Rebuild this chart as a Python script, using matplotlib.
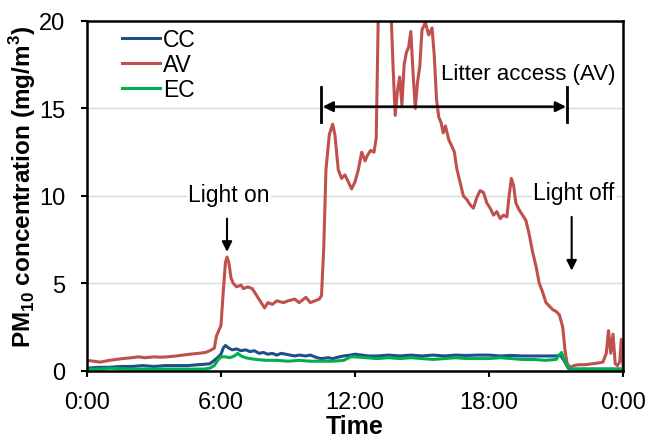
import matplotlib.pyplot as plt
from matplotlib.ticker import FuncFormatter

plt.rcParams['font.family'] = ['Liberation Sans', 'DejaVu Sans']
plt.rcParams['mathtext.fontset'] = 'custom'
plt.rcParams['mathtext.rm'] = 'Liberation Sans'
plt.rcParams['mathtext.bf'] = 'Liberation Sans:bold'

# hours since midnight (mg/m3)
t_av = [0.0, 0.3, 0.6, 1.0, 1.3, 1.6, 2.0, 2.3, 2.6, 3.0, 3.3, 3.6, 4.0, 4.3, 4.6, 5.0,
        5.3, 5.5, 5.7, 5.8, 5.9, 6.0, 6.1, 6.2, 6.27, 6.35, 6.45, 6.55, 6.7, 6.9, 7.0,
        7.2, 7.4, 7.6, 7.8, 7.95, 8.1, 8.3, 8.5, 8.8, 9.0, 9.3, 9.5, 9.8, 10.0, 10.2,
        10.4, 10.5, 10.6, 10.7, 10.85, 11.0, 11.1, 11.25, 11.4, 11.55, 11.7, 11.85, 12.0,
        12.15, 12.3, 12.45, 12.55, 12.7, 12.85, 12.95, 13.0, 13.05, 13.3, 13.5, 13.6,
        13.7, 13.8, 13.9, 14.0, 14.1, 14.2, 14.3, 14.4, 14.5, 14.6, 14.7, 14.8, 14.9,
        15.0, 15.15, 15.3, 15.45, 15.55, 15.65, 15.75, 15.85, 15.95, 16.05, 16.2, 16.35,
        16.45, 16.55, 16.7, 16.85, 17.0, 17.15, 17.3, 17.45, 17.6, 17.75, 17.9, 18.05,
        18.2, 18.35, 18.5, 18.65, 18.8, 18.9, 19.0, 19.1, 19.2, 19.35, 19.5, 19.65, 19.8,
        19.95, 20.1, 20.25, 20.4, 20.55, 20.7, 20.85, 21.0, 21.15, 21.3, 21.4, 21.5,
        21.65, 21.8, 22.0, 22.3, 22.6, 22.9, 23.1, 23.25, 23.35, 23.45, 23.55, 23.65,
        23.75, 23.85, 23.92, 24.0]
av = [0.6, 0.55, 0.5, 0.6, 0.65, 0.7, 0.75, 0.8, 0.75, 0.8, 0.78, 0.8, 0.85, 0.9, 0.95, 1.0,
      1.05, 1.15, 1.3, 2.0, 2.3, 2.6, 4.5, 6.2, 6.5, 6.2, 5.3, 5.0, 4.8, 4.9, 4.7,
      4.8, 4.7, 4.3, 3.9, 3.6, 3.9, 3.8, 4.0, 3.9, 4.0, 4.1, 3.9, 4.2, 3.9, 4.0,
      4.1, 4.3, 7.0, 11.5, 13.5, 14.1, 13.5, 11.5, 11.0, 11.2, 10.8, 10.4, 10.8,
      11.5, 12.5, 12.0, 12.3, 12.6, 12.5, 13.3, 17.0, 21.0, 23.0, 22.0, 21.0,
      17.5, 14.6, 16.0, 16.8, 15.2, 17.5, 18.2, 18.5, 19.4, 17.0, 15.0, 16.5, 17.4,
      19.5, 19.9, 19.2, 19.6, 18.0, 15.5, 14.5, 14.2, 13.6, 14.0, 13.2, 12.8,
      12.5, 11.6, 10.8, 10.0, 9.8, 9.5, 9.3, 9.9, 10.3, 10.2, 9.6, 9.3,
      8.9, 9.1, 8.7, 8.9, 8.8, 10.0, 11.0, 10.6, 9.6, 9.2, 8.9, 8.6, 7.8,
      6.8, 6.0, 5.0, 4.5, 3.9, 3.7, 3.5, 3.4, 3.2, 2.5, 1.2, 0.4,
      0.2, 0.3, 0.35, 0.35, 0.4, 0.45, 0.5, 1.0, 2.3, 1.0, 2.1, 0.4,
      0.3, 0.5, 1.8, 0.3]

t_cc = [0.0, 0.5, 1.0, 1.5, 2.0, 2.5, 3.0, 3.5, 4.0, 4.5, 5.0, 5.5, 5.8, 6.0, 6.1, 6.2,
        6.35, 6.5, 6.7, 6.9, 7.1, 7.3, 7.5, 7.7, 7.9, 8.1, 8.3, 8.5, 8.7, 8.9, 9.1, 9.3,
        9.5, 9.8, 10.0, 10.3, 10.5, 10.8, 11.0, 11.3, 11.5, 11.8, 12.0, 12.3, 12.6, 13.0,
        13.5, 14.0, 14.5, 15.0, 15.5, 16.0, 16.5, 17.0, 17.5, 18.0, 18.5, 19.0, 19.5,
        20.0, 20.5, 21.0, 21.2, 21.4, 21.55, 21.7, 22.0, 22.5, 23.0, 23.5, 24.0]
cc = [0.15, 0.2, 0.2, 0.25, 0.25, 0.3, 0.25, 0.3, 0.3, 0.3, 0.35, 0.4, 0.7, 0.95, 1.3, 1.45,
      1.3, 1.2, 1.25, 1.15, 1.2, 1.1, 1.15, 1.0, 1.05, 0.95, 1.0, 0.9, 1.0, 0.95, 0.9, 0.85,
      0.9, 0.85, 0.9, 0.75, 0.7, 0.75, 0.7, 0.8, 0.85, 0.9, 0.95, 0.9, 0.85, 0.85,
      0.9, 0.85, 0.9, 0.85, 0.9, 0.85, 0.9, 0.88, 0.9, 0.9, 0.85, 0.88, 0.85,
      0.85, 0.85, 0.85, 0.9, 0.5, 0.15, 0.1, 0.1, 0.1, 0.1, 0.1, 0.1]

t_ec = [0.0, 0.5, 1.0, 2.0, 3.0, 4.0, 5.2, 5.5, 5.7, 5.85, 6.0, 6.2, 6.4, 6.6, 6.75, 6.9,
        7.1, 7.3, 7.6, 8.0, 8.5, 9.0, 9.5, 10.0, 10.5, 11.0, 11.5, 11.8, 12.0, 12.5, 13.0,
        13.5, 14.0, 14.5, 15.0, 15.5, 16.0, 16.5, 17.0, 17.5, 18.0, 18.5, 19.0, 19.5,
        20.0, 20.5, 21.0, 21.15, 21.25, 21.35, 21.5, 21.7, 22.0, 24.0]
ec = [0.1, 0.1, 0.15, 0.1, 0.1, 0.1, 0.1, 0.15, 0.3, 0.6, 0.8, 0.8, 0.75, 0.85, 1.0, 0.85,
      0.75, 0.7, 0.65, 0.6, 0.6, 0.55, 0.6, 0.55, 0.55, 0.55, 0.6, 0.8, 0.8, 0.75, 0.7,
      0.75, 0.7, 0.75, 0.7, 0.65, 0.7, 0.75, 0.7, 0.7, 0.7, 0.75, 0.7, 0.65,
      0.65, 0.6, 0.65, 0.9, 1.05, 0.7, 0.25, 0.1, 0.1, 0.1]

xticks = [0, 6, 12, 18, 24]
yticks = [0, 5, 10, 15, 20]

fig = plt.figure(figsize=(6.49, 4.39), dpi=100)
ax = fig.add_axes([0.134, 0.153, 0.826, 0.797])

ax.plot(t_cc, cc, color='#1F4E8C', lw=2.2, label='CC')
ax.plot(t_av, av, color='#C0504D', lw=2.2, label='AV')
ax.plot(t_ec, ec, color='#00B050', lw=2.2, label='EC')

ax.set_xlim(0, 24)
ax.set_ylim(0, 20)
ax.set_xticks(xticks)
ax.set_yticks(yticks)
ax.xaxis.set_major_formatter(FuncFormatter(lambda v, p: '%d:00' % (int(v) % 24)))
ax.tick_params(labelsize=17, width=1.5, length=4.5, direction='out', colors='black')
ax.tick_params(axis='x', pad=10)
ax.tick_params(axis='y', pad=11)
ax.grid(axis='y', color='#D9D9D9', lw=1)
ax.set_axisbelow(True)
for s in ax.spines.values():
    s.set_linewidth(1.8)

ax.set_xlabel('Time', fontsize=18, fontweight='bold', labelpad=1)
ax.set_ylabel(r'PM$_{\mathbf{10}}$ concentration (mg/m$^{\mathbf{3}}$)',
              fontsize=17.5, fontweight='bold')
ax.yaxis.set_label_coords(-0.091, 0.527)

ax.legend(loc='upper left', bbox_to_anchor=(0.048, 1.007), borderaxespad=0, frameon=False,
          fontsize=16.5, handlelength=1.66, handletextpad=0.13, labelspacing=0.1)

# annotations
ax.annotate('', xy=(6.27, 6.8), xytext=(6.27, 8.7),
            arrowprops=dict(arrowstyle='-|>', color='black', lw=1.5, mutation_scale=15,
                            shrinkA=0, shrinkB=0))
ax.text(6.36, 9.71, 'Light on', fontsize=16.5, ha='center', va='baseline',
        bbox=dict(facecolor='white', edgecolor='none', pad=1))
ax.annotate('', xy=(21.7, 5.73), xytext=(21.7, 8.8),
            arrowprops=dict(arrowstyle='-|>', color='black', lw=1.5, mutation_scale=15,
                            shrinkA=0, shrinkB=0))
ax.text(21.81, 9.83, 'Light off', fontsize=16.5, ha='center', va='baseline',
        bbox=dict(facecolor='white', edgecolor='none', pad=1))
ax.annotate('', xy=(10.55, 15.1), xytext=(21.45, 15.1),
            arrowprops=dict(arrowstyle='<|-|>', color='black', lw=1.8, mutation_scale=15,
                            shrinkA=0, shrinkB=0))
ax.plot([10.48, 10.48], [14.2, 16.2], color='black', lw=2)
ax.plot([21.5, 21.5], [14.2, 16.2], color='black', lw=2)
ax.text(19.75, 16.69, 'Litter access (AV)', fontsize=16, ha='center', va='baseline')

fig.savefig('out.png', dpi=100)
